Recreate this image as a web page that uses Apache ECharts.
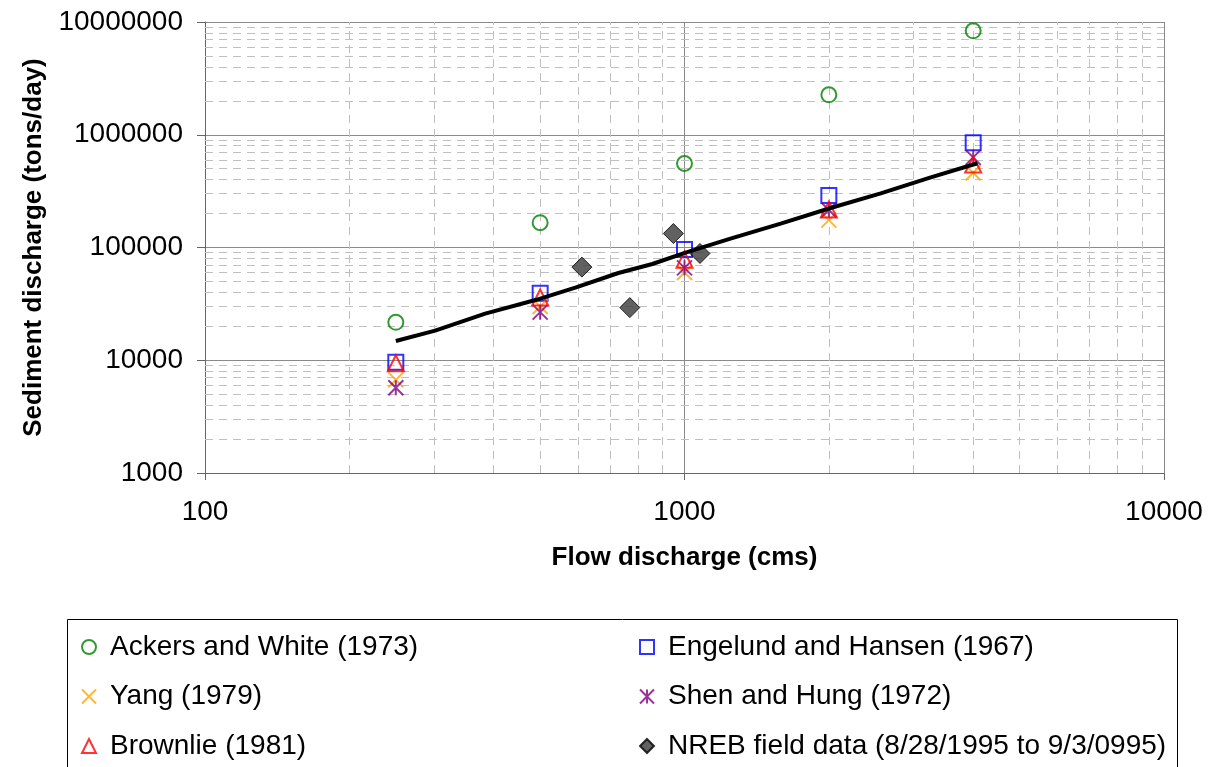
<!DOCTYPE html>
<html>
<head>
<meta charset="utf-8">
<script src="https://cdn.jsdelivr.net/npm/echarts@6/dist/echarts.min.js"></script>
<style>
  html, body { margin: 0; padding: 0; background: #fff; }
  #chart { width: 1209px; height: 767px; }
</style>
</head>
<body>
<div id="chart"></div>
<script>
// Computed sediment loads for each transport formula at the modelled flows
const flows = [250, 500, 1000, 2000, 4000];
const ackersWhite = [21700, 166000, 556000, 2260000, 8350000];
const engelundHansen = [9600, 39300, 96000, 289000, 849000];
const yang = [6700, 30000, 60000, 175000, 460000];
const shenHung = [5700, 26700, 66000, 215000, 630000];
const brownlie = [9400, 36000, 78000, 217000, 545000];

// Field measurements
const nrebFlow = [611, 769, 948, 1077];
const nrebLoad = [67000, 29300, 133000, 88500];

// Rating curve
const curveFlow = [250, 302, 384, 489, 592, 728, 857, 1005, 1247, 1587, 2017, 2566, 3263, 4083];
const curveLoad = [14800, 18300, 25900, 34200, 44000, 59400, 71400, 89900, 120000, 163000, 224000, 302000, 419000, 558500];

// Axis ranges and minor grid positions
const xRange = [100, 10000];
const yRange = [1000, 10000000];
const xMinor = [200, 300, 400, 500, 600, 700, 800, 900, 2000, 3000, 4000, 5000, 6000, 7000, 8000, 9000];
const yMinor = [];
for (let d = 1000; d < 10000000; d *= 10) {
  for (let m = 2; m <= 9; m++) yMinor.push(m * d);
}

const FONT = "'Liberation Sans', Arial, sans-serif";
const pair = (xs, ys) => xs.map((x, i) => [x, ys[i]]);

const crossPath = 'path://M0,0L10,10M10,0L0,10';
const starPath = 'path://M0,0L10,10M10,0L0,10M5,0L5,10';

function hollow(name, values, symbol, color, size) {
  return {
    name: name,
    type: 'scatter',
    data: pair(flows, values),
    symbol: symbol,
    symbolSize: size,
    z: 3,
    itemStyle: { color: 'transparent', borderColor: color, borderWidth: 2 }
  };
}
function stroked(name, values, symbol, color, size) {
  return {
    name: name,
    type: 'scatter',
    data: pair(flows, values),
    symbol: symbol,
    symbolSize: size,
    z: 3,
    itemStyle: { color: color, borderColor: color, borderWidth: 2 }
  };
}

const gridDash = { color: '#c0c0c0', width: 1, type: [8, 6] };
const legendText = { fontSize: 28, color: '#000', fontFamily: FONT, lineHeight: 30, padding: [0, 0, 0, 9] };

const chart = echarts.init(document.getElementById('chart'), null, { renderer: 'canvas' });
chart.setOption({
  animation: false,
  backgroundColor: '#ffffff',
  textStyle: { fontFamily: FONT },
  grid: { left: 205, right: 45, top: 22, bottom: 294 },
  xAxis: {
    type: 'log',
    logBase: 10,
    min: xRange[0],
    max: xRange[1],
    name: 'Flow discharge (cms)',
    nameLocation: 'middle',
    nameGap: 72,
    nameTextStyle: { fontSize: 26, fontWeight: 'bold', color: '#000', fontFamily: FONT },
    axisLine: { show: true, onZero: false, lineStyle: { color: '#666', width: 1 } },
    axisTick: { show: true, length: 7, lineStyle: { color: '#666' } },
    axisLabel: {
      fontSize: 28, color: '#000', margin: 25, fontFamily: FONT,
      formatter: v => String(Math.round(v))
    },
    splitLine: { show: true, lineStyle: { color: '#8a8a8a', width: 1 } }
  },
  yAxis: {
    type: 'log',
    logBase: 10,
    min: yRange[0],
    max: yRange[1],
    name: 'Sediment discharge (tons/day)',
    nameLocation: 'middle',
    nameGap: 158,
    nameTextStyle: { fontSize: 26, fontWeight: 'bold', color: '#000', fontFamily: FONT },
    axisLine: { show: true, onZero: false, lineStyle: { color: '#666', width: 1 } },
    axisTick: { show: true, length: 8, lineStyle: { color: '#666' } },
    axisLabel: {
      fontSize: 28, color: '#000', margin: 22, fontFamily: FONT,
      formatter: v => String(Math.round(v))
    },
    splitLine: { show: true, lineStyle: { color: '#8a8a8a', width: 1 } }
  },
  legend: [
    {
      orient: 'vertical', left: 76, top: 627, width: 540, height: 180, itemGap: 19.5,
      itemWidth: 14, itemHeight: 14, selectedMode: false,
      textStyle: legendText,
      data: ['Ackers and White (1973)', 'Yang (1979)', 'Brownlie (1981)']
    },
    {
      orient: 'vertical', left: 634, top: 627, width: 560, height: 180, itemGap: 19.5,
      itemWidth: 14, itemHeight: 14, selectedMode: false,
      textStyle: legendText,
      data: ['Engelund and Hansen (1967)', 'Shen and Hung (1972)', 'NREB field data (8/28/1995 to 9/3/0995)']
    }
  ],
  graphic: [
    {
      type: 'rect',
      shape: { x: 67.5, y: 619.5, width: 1110, height: 200 },
      style: { fill: 'none', stroke: '#000', lineWidth: 1 },
      silent: true
    }
  ],
  series: [
    {
      // dashed minor grid
      name: 'minor-grid',
      type: 'line',
      data: [],
      z: 1,
      silent: true,
      markLine: {
        z: 1,
        silent: true,
        symbol: ['none', 'none'],
        label: { show: false },
        lineStyle: gridDash,
        emphasis: { disabled: true },
        data: xMinor.map(v => ({ xAxis: v })).concat(yMinor.map(v => ({ yAxis: v })))
      }
    },
    hollow('Ackers and White (1973)', ackersWhite, 'circle', '#008000', 15),
    hollow('Engelund and Hansen (1967)', engelundHansen, 'rect', '#0000ff', 15),
    stroked('Yang (1979)', yang, crossPath, '#ffa500', 15),
    stroked('Shen and Hung (1972)', shenHung, starPath, '#800080', 15),
    hollow('Brownlie (1981)', brownlie, 'triangle', '#ff0000', 16),
    {
      name: 'NREB field data (8/28/1995 to 9/3/0995)',
      type: 'scatter',
      data: pair(nrebFlow, nrebLoad),
      symbol: 'diamond',
      symbolSize: 20,
      z: 3,
      itemStyle: { color: '#3a3a3a', borderColor: '#000', borderWidth: 1 }
    },
    {
      name: 'curve',
      type: 'line',
      data: pair(curveFlow, curveLoad),
      showSymbol: false,
      symbol: 'none',
      smooth: false,
      z: 4,
      lineStyle: { color: '#000', width: 4 }
    }
  ]
});
</script>
</body>
</html>
